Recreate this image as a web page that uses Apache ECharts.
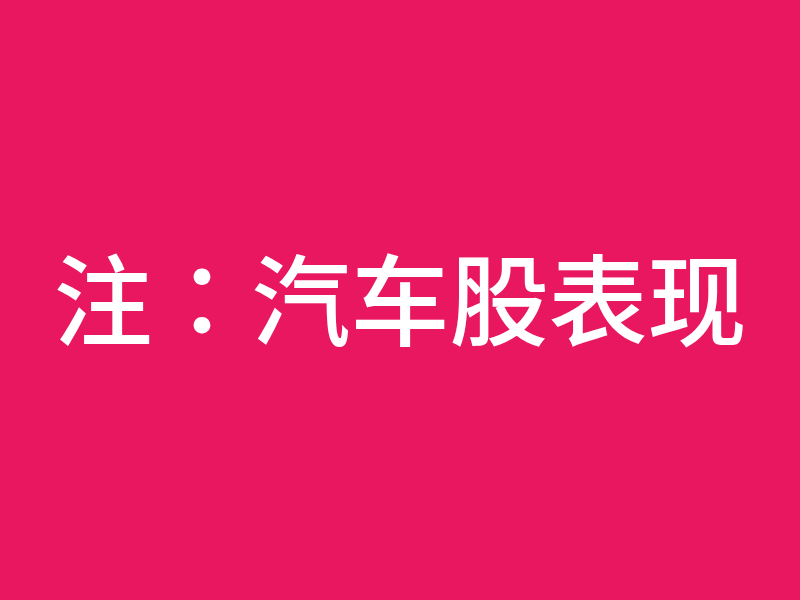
<!DOCTYPE html>
<html>
<head>
<meta charset="utf-8">
<script src="https://cdn.jsdelivr.net/npm/echarts@6/dist/echarts.min.js"></script>
<style>
  html, body { margin: 0; padding: 0; }
  #chart { width: 800px; height: 600px; }
</style>
</head>
<body>
<div id="chart"></div>
<script>
  // 文本内容
  const titleText = "注：汽车股表现";

  const chart = echarts.init(document.getElementById("chart"));
  const options = {
    backgroundColor: "#E8175F",
    title: {
      text: titleText,
      left: "center",
      top: "middle",
      textStyle: {
        color: "#ffffff",
        fontSize: 99,
        fontWeight: 500,
        fontFamily: "Noto Sans CJK TC"
      }
    },
    series: []
  };
  chart.setOption(options);
</script>
</body>
</html>
